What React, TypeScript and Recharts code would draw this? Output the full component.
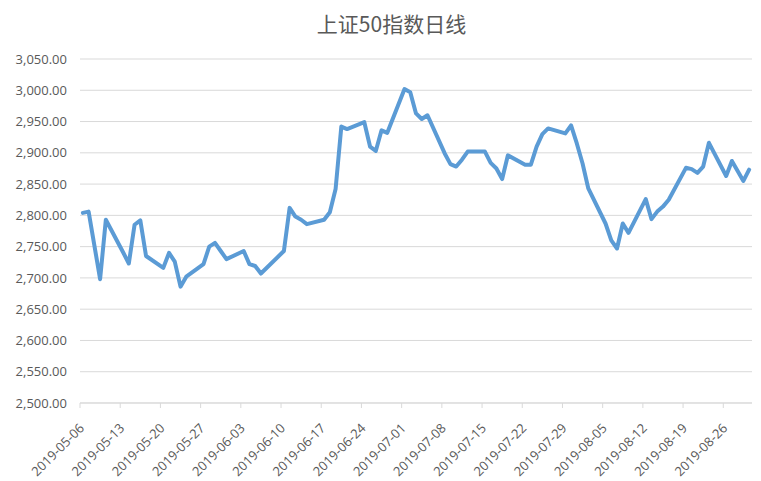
import { LineChart, Line, XAxis, YAxis, CartesianGrid } from 'recharts';

// SSE 50 daily close
const tradeDates = [
  '2019-05-06', '2019-05-07', '2019-05-08', '2019-05-09', '2019-05-10',
  '2019-05-13', '2019-05-14', '2019-05-15', '2019-05-16', '2019-05-17',
  '2019-05-20', '2019-05-21', '2019-05-22', '2019-05-23', '2019-05-24',
  '2019-05-27', '2019-05-28', '2019-05-29', '2019-05-30', '2019-05-31',
  '2019-06-03', '2019-06-04', '2019-06-05', '2019-06-06',
  '2019-06-10', '2019-06-11', '2019-06-12', '2019-06-13', '2019-06-14',
  '2019-06-17', '2019-06-18', '2019-06-19', '2019-06-20', '2019-06-21',
  '2019-06-24', '2019-06-25', '2019-06-26', '2019-06-27', '2019-06-28',
  '2019-07-01', '2019-07-02', '2019-07-03', '2019-07-04', '2019-07-05',
  '2019-07-08', '2019-07-09', '2019-07-10', '2019-07-11', '2019-07-12',
  '2019-07-15', '2019-07-16', '2019-07-17', '2019-07-18', '2019-07-19',
  '2019-07-22', '2019-07-23', '2019-07-24', '2019-07-25', '2019-07-26',
  '2019-07-29', '2019-07-30', '2019-07-31', '2019-08-01', '2019-08-02',
  '2019-08-05', '2019-08-06', '2019-08-07', '2019-08-08', '2019-08-09',
  '2019-08-12', '2019-08-13', '2019-08-14', '2019-08-15', '2019-08-16',
  '2019-08-19', '2019-08-20', '2019-08-21', '2019-08-22', '2019-08-23',
  '2019-08-26', '2019-08-27', '2019-08-28', '2019-08-29', '2019-08-30',
];

const closeValues = [
  2804, 2806, 2752, 2698, 2793,
  2741, 2723, 2785, 2792, 2735,
  2716, 2740, 2726, 2686, 2702,
  2722, 2750, 2756, 2743, 2730,
  2743, 2722, 2719, 2707,
  2743, 2812, 2798, 2793, 2786,
  2793, 2805, 2842, 2942, 2938,
  2949, 2910, 2903, 2936, 2932,
  3002, 2997, 2963, 2954, 2960,
  2899, 2882, 2878, 2889, 2902,
  2902, 2884, 2875, 2858, 2896,
  2881, 2881, 2910, 2930, 2939,
  2931, 2944, 2915, 2883, 2843,
  2787, 2760, 2747, 2787, 2772,
  2826, 2794, 2806, 2814, 2825,
  2876, 2874, 2868, 2878, 2916,
  2863, 2887, 2871, 2855, 2873,
];

const xTickLabels = [
  '2019-05-06', '2019-05-13', '2019-05-20', '2019-05-27', '2019-06-03',
  '2019-06-10', '2019-06-17', '2019-06-24', '2019-07-01', '2019-07-08',
  '2019-07-15', '2019-07-22', '2019-07-29', '2019-08-05', '2019-08-12',
  '2019-08-19', '2019-08-26',
];

const yTicks = [2500, 2550, 2600, 2650, 2700, 2750, 2800, 2850, 2900, 2950, 3000, 3050];

const axisStart = '2019-05-06';
const axisEnd = '2019-08-31';

const DAY = 86400000;
const dayIndex = (d: string) => (new Date(d).getTime() - new Date(axisStart).getTime()) / DAY;

// date axis like Excel: each day is a slot, the point sits in the middle of it
const chartData = tradeDates.map((d, i) => ({ x: dayIndex(d) + 0.5, close: closeValues[i] }));
const xTicks = xTickLabels.map(dayIndex);

const textColor = '#595959';
const gridColor = '#d9d9d9';
const font = '"Open Sans", "Noto Sans", sans-serif';

const DateTick = ({ x, y, payload }: any) => {
  const label = xTickLabels[xTicks.indexOf(payload.value)];
  const tx = x + 5;
  const ty = y + 19;
  return (
    <text
      x={tx}
      y={ty}
      transform={`rotate(-45, ${tx}, ${ty})`}
      textAnchor="end"
      fill={textColor}
      fontSize={13}
      fontFamily={font}
    >
      {label}
    </text>
  );
};

export default function App() {
  return (
    <div style={{ position: 'absolute', left: 0, top: 0, width: 761, height: 481, background: '#fff' }}>
      <div
        style={{
          position: 'absolute',
          left: 0,
          width: 783,
          top: 11,
          textAlign: 'center',
          fontFamily: '"Noto Sans CJK SC", sans-serif',
          fontSize: 21,
          lineHeight: '24px',
          color: textColor,
        }}
      >
        上证50指数日线
      </div>
      <LineChart width={761} height={481} data={chartData} margin={{ top: 59, right: 9, left: 0, bottom: 0 }}>
        <CartesianGrid vertical={false} stroke={gridColor} />
        <XAxis
          dataKey="x"
          type="number"
          domain={[0, dayIndex(axisEnd)]}
          ticks={xTicks}
          interval={0}
          height={78}
          axisLine={{ stroke: gridColor }}
          tickLine={{ stroke: gridColor }}
          tickSize={5}
          tick={<DateTick />}
        />
        <YAxis
          type="number"
          domain={[2500, 3050]}
          ticks={yTicks}
          interval={0}
          width={80}
          axisLine={false}
          tickLine={false}
          tickSize={0}
          tickMargin={13}
          tick={{ fill: textColor, fontSize: 13, fontFamily: font }}
          tickFormatter={(v: number) => v.toLocaleString('en-US', { minimumFractionDigits: 2, maximumFractionDigits: 2 })}
        />
        <Line
          type="linear"
          dataKey="close"
          stroke="#5b9bd5"
          strokeWidth={4}
          strokeLinejoin="round"
          strokeLinecap="round"
          dot={false}
          isAnimationActive={false}
        />
      </LineChart>
    </div>
  );
}
